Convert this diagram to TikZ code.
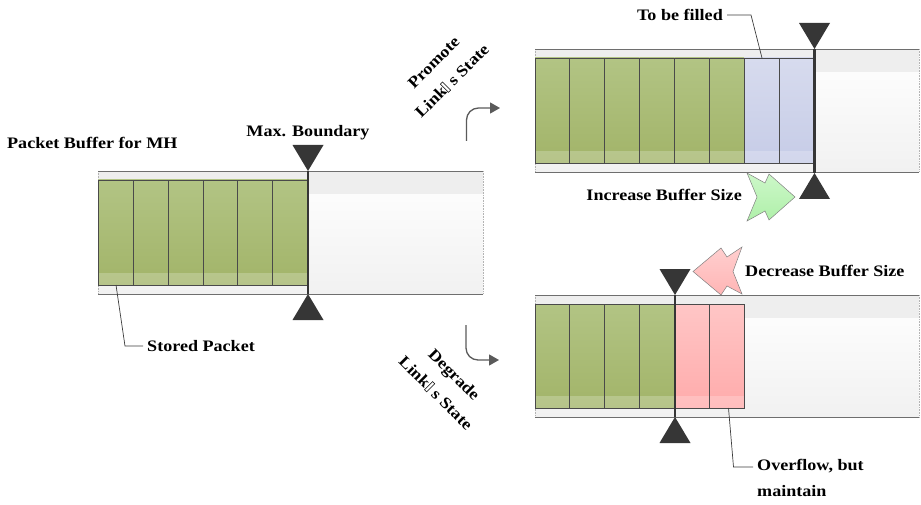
\documentclass[tikz,border=0pt]{standalone}
\usepackage{fontspec}
\setmainfont{Liberation Serif}[FakeStretch=1.13]
\usetikzlibrary{arrows.meta}

\definecolor{shellband}{HTML}{EEEEEE}
\definecolor{shellbot}{HTML}{F1F1F1}
\definecolor{shelledge}{HTML}{6E6E6E}
\definecolor{shellside}{HTML}{B4B4B4}
\definecolor{celledge}{HTML}{4A4A4A}
\definecolor{greentop}{HTML}{B2C484}
\definecolor{greenbot}{HTML}{A2B469}
\definecolor{bluetop}{HTML}{D7DBEE}
\definecolor{bluebot}{HTML}{C6CCE7}
\definecolor{pinktop}{HTML}{FFC6C6}
\definecolor{pinkbot}{HTML}{FFABAB}
\definecolor{marker}{HTML}{363636}
\definecolor{leader}{HTML}{3C3C3C}
\definecolor{flow}{HTML}{5A5A5A}
\definecolor{upfill}{HTML}{AFF0A9}
\definecolor{upfilltop}{HTML}{CDF7C9}
\definecolor{downfill}{HTML}{FFB5B5}
\definecolor{downfilltop}{HTML}{FFCFCF}

% empty glyph box in the place of the apostrophe
\newcommand\tofubox{\kern0.6pt{\fboxsep=0pt\fboxrule=0.5pt\fbox{\rule{0pt}{1.5ex}\hspace{2.4pt}}}\kern0.4pt}

% buffer frame: left, top, right, bottom
\newcommand\bufshell[4]{%
  \shade[top color=white,bottom color=shellbot] ({#1},{#2}) rectangle ({#3},{#4});
  \fill[shellband] ({#1},{#2}) rectangle ({#3},{#2+23});
  \draw[shellside,densely dotted,line width=0.6pt] ({#1},{#2}) -- ({#1},{#4}) ({#3},{#2}) -- ({#3},{#4});
  \draw[shelledge,line width=0.9pt] ({#1},{#2}) -- ({#3},{#2}) ({#1},{#4}) -- ({#3},{#4});
}
% one packet cell: left, right, top, bottom, colour prefix
\newcommand\pktcell[5]{%
  \shade[top color=#5top,bottom color=#5bot] ({#1},{#3}) rectangle ({#2},{#4});
  \fill[white,opacity=0.22] ({#1},{#4-12}) rectangle ({#2},{#4});
  \draw[celledge,line width=0.9pt] ({#1},{#3}) rectangle ({#2},{#4});
}
% boundary marker: x, top base, top apex, bottom apex, bottom base
\newcommand\bound[5]{%
  \draw[marker,line width=2.2pt] ({#1},{#3}) -- ({#1},{#4});
  \fill[marker] ({#1-15.5},{#2}) -- ({#1+15.5},{#2}) -- ({#1},{#3}) -- cycle;
  \fill[marker] ({#1-15.5},{#5}) -- ({#1+15.5},{#5}) -- ({#1},{#4}) -- cycle;
}

\begin{document}
\begin{tikzpicture}[x=1pt,y=-1pt,
  lbl/.style={font=\fontsize{16}{26}\selectfont\bfseries,inner sep=0pt},
  leaderline/.style={draw=leader,line width=0.7pt},
  flowarrow/.style={draw=flow,line width=1.3pt,rounded corners=12pt,
    -{Triangle[length=10pt,width=11pt]}},
  jagged/.style={draw=gray,line width=0.5pt}]
\useasboundingbox (0,0) rectangle (921,505);

% ---- current buffer ----
\bufshell{98}{171}{483}{294}
\foreach \i in {0,...,5}{
  \pktcell{98.3+34.9*\i}{98.3+34.9*(\i+1)}{180}{285}{green}}
\bound{308}{145}{171}{294}{320}

\node[lbl,anchor=west] (title) at (7,143) {Packet Buffer for MH};
\node[lbl] (maxb) at (308,133) {Max. Boundary};
\node[lbl,anchor=west] (stored) at (147,346) {Stored Packet};
\coordinate (storedpkt) at (116,285);
\draw[leaderline] (storedpkt) -- (125,346) -- ([xshift=-4pt]stored.west);

% ---- promoted buffer ----
\bufshell{535}{49}{919}{172}
\foreach \i in {0,...,5}{
  \pktcell{535+34.9*\i}{535+34.9*(\i+1)}{58}{163}{green}}
\foreach \i in {6,7}{
  \pktcell{535+34.9*\i}{535+34.9*(\i+1)}{58}{163}{blue}}
\bound{814.5}{23}{49}{173}{199}

\node[lbl,anchor=east] (fill) at (723,15) {To be filled};
\coordinate (fillpkt) at (762,58);
\draw[leaderline] ([xshift=4pt]fill.east) -- (751,15) -- (fillpkt);

\node[lbl,anchor=east] (inc) at (742,195) {Increase Buffer Size};
% double-chevron arrow pointing right
\shade[jagged,top color=upfilltop,bottom color=upfill]
  (747,173) -- (765,183) -- (769,174) -- (795,197) -- (769,220)
  -- (765,211) -- (747,221) -- (757,197) -- cycle;

\node[lbl,rotate=45,align=center] (promote) at (443,72) {Promote\\Link\tofubox{} s State};
\coordinate (pfrom) at (466.5,141);
\coordinate (pto) at (500,108);
\draw[flowarrow] (pfrom) |- (pto);

% ---- degraded buffer ----
\bufshell{535}{295}{919}{417}
\foreach \i in {0,...,3}{
  \pktcell{535+34.9*\i}{535+34.9*(\i+1)}{304}{408}{green}}
\foreach \i in {4,5}{
  \pktcell{535+34.9*\i}{535+34.9*(\i+1)}{304}{408}{pink}}
\bound{675}{269}{295}{417}{443}

\node[lbl,anchor=west] (dec) at (745,271) {Decrease Buffer Size};
% double-chevron arrow pointing left
\shade[jagged,top color=downfilltop,bottom color=downfill]
  (742,247) -- (727,257) -- (721,248) -- (693,271.5) -- (721,295)
  -- (727,286) -- (742,294) -- (733,271.5) -- cycle;

\node[lbl,anchor=north west,align=left] (over) at (757,459) {Overflow, but\\maintain};
\coordinate (overpkt) at (728.5,408);
\draw[leaderline] (overpkt) -- (733.5,467) -- (753,467);

\node[lbl,rotate=-45,align=center] (degrade) at (445,384) {Degrade\\Link\tofubox{} s State};
\coordinate (dfrom) at (466,325);
\coordinate (dto) at (499,360);
\draw[flowarrow] (dfrom) |- (dto);
\end{tikzpicture}
\end{document}
